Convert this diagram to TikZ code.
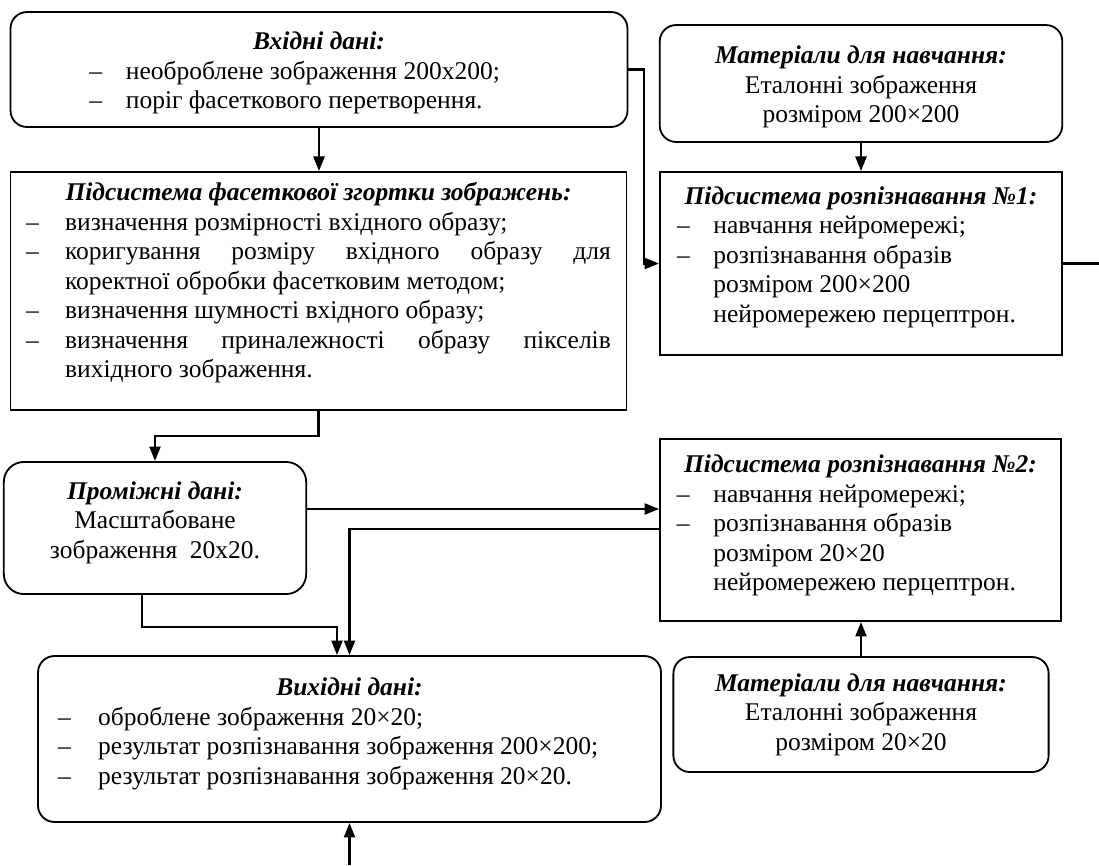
\documentclass[tikz,border=0pt]{standalone}
\usepackage{fontspec}
\setmainfont{Liberation Serif}
\usetikzlibrary{arrows.meta}

\hyphenpenalty=10000
\newlength{\retrait}
\setlength{\retrait}{20pt}
% titre centré en gras italique, puis lignes à tiret
\newcommand{\titre}[1]{{\centering\bfseries\itshape #1\par}}
\newcommand{\puce}[1]{\par\hangindent=\retrait\hangafter=1\noindent\makebox[\retrait][l]{–}#1\par}
\newcommand{\espace}[1]{\par\nointerlineskip\vspace{#1}\null}

\begin{document}
\begin{tikzpicture}[x=0.549pt, y=-0.549pt]
        % Styles des blocs et des liens
        \tikzstyle{bloc}=[draw, line width=1pt, font=\fontsize{14pt}{16.2pt}\selectfont, inner xsep=8pt, inner ysep=4pt]
        \tikzstyle{arrondi}=[bloc, rounded corners=9pt]
        \tikzstyle{lien}=[line width=1.4pt, -{Triangle[length=8pt, width=6pt]}]

        \useasboundingbox (0,0) rectangle (1099,865);

        % Blocs de gauche
        \node[arrondi, minimum width=338.7pt, minimum height=63.1pt, text width=322pt, align=flush left] (entree) at (319,69.5)
            {\titre{Вхідні дані:}\leftskip=35pt
             \puce{необроблене зображення 200x200;}
             \puce{поріг фасеткового перетворення.}\espace{-4pt}};
        \node[bloc, minimum width=338.2pt, minimum height=130.7pt, text width=321pt, align=justify] (facette) at (318.5,291)
            {\setlength{\retrait}{21.4pt}\titre{Підсистема фасеткової згортки зображень:}
             \puce{визначення розмірності вхідного образу;}
             \puce{коригування розміру вхідного образу для\linebreak коректної обробки фасетковим методом;}
             \puce{визначення шумності вхідного образу;}
             \puce{визначення приналежності образу пікселів\linebreak вихідного зображення.}\espace{9pt}};
        \node[arrondi, rounded corners=11pt, minimum width=161.4pt, minimum height=72.5pt, text width=150pt, align=flush center] (inter) at (155,528)
            {\titre{Проміжні дані:}Масштабоване\\зображення\ \ 20x20.\espace{6pt}};
        \node[arrondi, inner xsep=11pt, minimum width=342pt, minimum height=91.1pt, text width=320pt, align=flush left] (sortie) at (349.5,739)
            {\setlength{\retrait}{22pt}\titre{Вихідні дані:}
             \puce{оброблене зображення 20×20;}
             \puce{результат розпізнавання зображення 200×200;}
             \puce{результат розпізнавання зображення 20×20.}\espace{5.5pt}};

        % Blocs de droite
        \node[arrondi, minimum width=220.7pt, minimum height=64.2pt, text width=205pt, align=flush center] (materiel1) at (861,83.5)
            {\titre{Матеріали для навчання:}Еталонні зображення\\розміром 200×200\espace{-4pt}};
        \node[bloc, inner xsep=9.3pt, minimum width=220.7pt, minimum height=100.5pt, text width=202pt, align=flush left] (reco1) at (861,263.5)
            {\titre{Підсистема розпізнавання №1:}
             \puce{навчання нейромережі;}
             \puce{розпізнавання образів\newline розміром 200×200\newline нейромережею перцептрон.}\espace{7pt}};
        \node[bloc, inner xsep=9.3pt, minimum width=220.1pt, minimum height=99.9pt, text width=201.5pt, align=flush left] (reco2) at (860.5,530)
            {\titre{Підсистема розпізнавання №2:}
             \puce{навчання нейромережі;}
             \puce{розпізнавання образів\newline розміром 20×20\newline нейромережею перцептрон.}\espace{5pt}};
        \node[arrondi, minimum width=205.3pt, minimum height=63.1pt, text width=190pt, align=flush center] (materiel2) at (861,714.5)
            {\titre{Матеріали для навчання:}Еталонні зображення\\розміром 20×20};

        % Extrémités libres
        \coordinate (sortieD) at (1099,263.5);
        \coordinate (arrivee) at (349.5,865);

        % Liens
        \draw[lien] (entree.south) -- (entree.south |- facette.north);
        \draw[lien] (entree.east) -- ++(15.5,0) |- (reco1.west);
        \draw[lien] (materiel1.south) -- (materiel1.south |- reco1.north);
        \draw[line width=1.4pt] (reco1.east) -- (sortieD);
        \draw[lien] (facette.south) -- ++(0,25) -| (inter.north);
        \draw[lien] (inter.east |- 0,509) -- (reco2.west |- 0,509);
        \draw[lien] (reco2.west |- 0,529) -| (sortie.north);
        \draw[lien] (inter.south -| 142,0) |- (337,627) -- (sortie.north -| 337,0);
        \draw[lien] (materiel2.north) -- (materiel2.north |- reco2.south);
        \draw[lien] (arrivee) -- (sortie.south);
\end{tikzpicture}
\end{document}
